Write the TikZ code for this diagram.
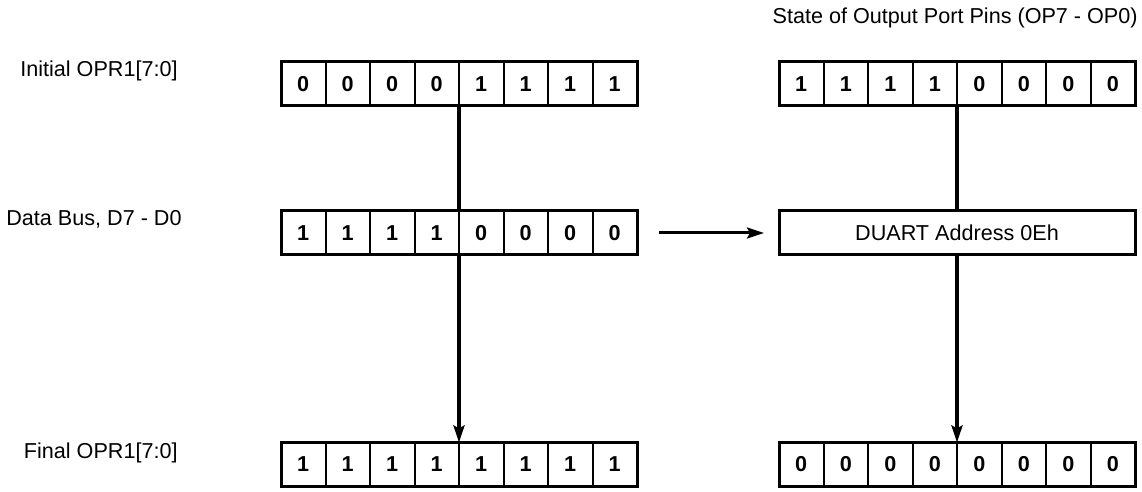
\documentclass[tikz,border=0pt]{standalone}
\usepackage{fontspec}
\setmainfont{Liberation Sans}
\usetikzlibrary{arrows.meta}

\newcommand{\diagfont}{\fontsize{10.8pt}{13pt}\selectfont}

\tikzset{
  bitcell/.style={draw, line width=1pt, minimum width=22.25pt, minimum height=22pt,
    inner sep=0pt, outer sep=0pt, font=\diagfont\bfseries},
  regframe/.style={line width=1.5pt},
  busline/.style={line width=2.3pt},
  rowlabel/.style={anchor=east, inner sep=0pt},
  bustip/.style={-{Stealth[length=8.5pt,width=5.5pt,inset=1.5pt]}},
}

\begin{document}
\begin{tikzpicture}[x=0.5pt,y=0.5pt,font=\diagfont]
\useasboundingbox (0,0) rectangle (1142,492);
% row labels
\node[rowlabel] (lblinit) at (178,421) {Initial OPR1[7:0]};
\node[rowlabel] (lblbus) at (182,273) {Data Bus, D7 - D0};
\node[rowlabel] (lblfinal) at (178,39) {Final OPR1[7:0]};
\node[rowlabel] (pinstitle) at (1138,474) {State of Output Port Pins (OP7 - OP0)};
% OPR1 side
\foreach \b [count=\i from 0] in {0,0,0,0,1,1,1,1}
  \node[bitcell] (init\i) at (303.25+44.5*\i,408) {\b};
\foreach \b [count=\i from 0] in {1,1,1,1,0,0,0,0}
  \node[bitcell] (bus\i) at (303.25+44.5*\i,259) {\b};
\foreach \b [count=\i from 0] in {1,1,1,1,1,1,1,1}
  \node[bitcell] (final\i) at (303.25+44.5*\i,27.5) {\b};
% output pins side
\foreach \b [count=\i from 0] in {1,1,1,1,0,0,0,0}
  \node[bitcell] (pins\i) at (801.25+44.5*\i,408) {\b};
\foreach \b [count=\i from 0] in {0,0,0,0,0,0,0,0}
  \node[bitcell] (pinsfinal\i) at (801.25+44.5*\i,27.5) {\b};
\node[draw, line width=1.5pt, minimum width=178pt, minimum height=22pt, outer sep=0pt]
  (duart) at (957,259) {DUART Address 0Eh};
% outer frames
\draw[regframe] (init0.north west) rectangle (init7.south east);
\draw[regframe] (bus0.north west) rectangle (bus7.south east);
\draw[regframe] (final0.north west) rectangle (final7.south east);
\draw[regframe] (pins0.north west) rectangle (pins7.south east);
\draw[regframe] (pinsfinal0.north west) rectangle (pinsfinal7.south east);
% connections
\draw[busline] (init3.south east) -- (bus3.north east);
\draw[busline, bustip] (bus3.south east) -- (final3.north east);
\draw[busline] (pins3.south east) -- (duart.north);
\draw[busline, bustip] (duart.south) -- (pinsfinal3.north east);
\draw[line width=1.5pt, bustip, shorten <=11pt, shorten >=7.5pt] (bus7.east) -- (duart.west);
\end{tikzpicture}
\end{document}
